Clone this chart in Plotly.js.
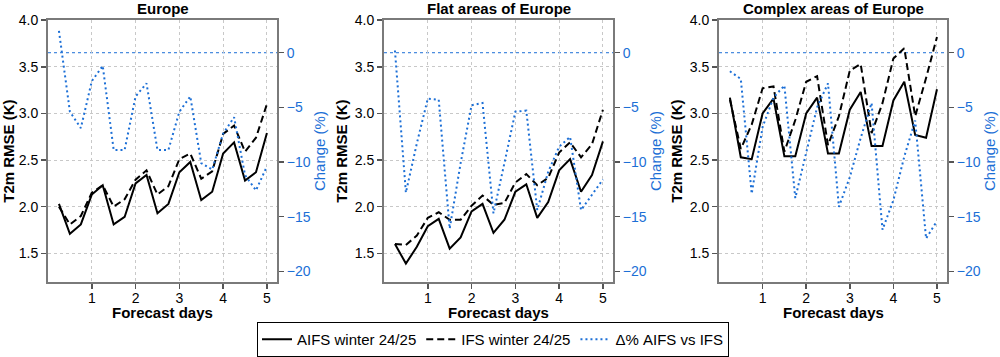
<!DOCTYPE html>
<html>
<head>
<meta charset="utf-8">
<script src="https://cdn.plot.ly/plotly-3.0.1.min.js"></script>
<style>html,body{margin:0;padding:0;background:#fff;}#chart{width:1000px;height:357px;}</style>
</head>
<body>
<div id="chart"></div>
<script>
const days = [0.25,0.5,0.75,1,1.25,1.5,1.75,2,2.25,2.5,2.75,3,3.25,3.5,3.75,4,4.25,4.5,4.75,5];
const panelTitles = ["Europe", "Flat areas of Europe", "Complex areas of Europe"];
const seriesNames = ["AIFS winter 24/25", "IFS winter 24/25", "Δ% AIFS vs IFS"];
const xTickVals = [1, 2, 3, 4, 5];
const xTickText = ["1", "2", "3", "4", "5"];
const leftTickVals = [1.5, 2.0, 2.5, 3.0, 3.5, 4.0];
const leftTickText = ["1.5", "2.0", "2.5", "3.0", "3.5", "4.0"];
const rightTickVals = [0, -5, -10, -15, -20];
const rightTickText = ["0", "\u22125", "\u221210", "\u221215", "\u221220"];

const aifsEurope  = [2.03,1.71,1.81,2.13,2.23,1.81,1.89,2.25,2.34,1.93,2.03,2.37,2.48,2.07,2.16,2.57,2.69,2.28,2.37,2.79];
const ifsEurope   = [2.00,1.81,1.90,2.15,2.23,2.00,2.08,2.29,2.39,2.13,2.22,2.51,2.57,2.30,2.38,2.78,2.87,2.59,2.74,3.10];
const deltaEurope = [2.0,-5.4,-6.9,-2.6,-1.2,-8.9,-8.9,-4.0,-2.8,-8.9,-8.9,-5.4,-4.0,-10.1,-10.7,-7.4,-5.9,-11.2,-12.6,-10.4];

const aifsFlat  = [1.60,1.39,1.57,1.79,1.87,1.55,1.67,1.95,2.03,1.72,1.86,2.16,2.24,1.88,2.05,2.39,2.51,2.16,2.34,2.70];
const ifsFlat   = [1.60,1.59,1.69,1.88,1.94,1.86,1.86,2.01,2.12,2.02,2.04,2.26,2.35,2.23,2.31,2.58,2.69,2.53,2.67,3.04];
const deltaFlat = [0.2,-12.8,-8.3,-4.2,-4.3,-16.1,-10.1,-4.8,-4.6,-14.7,-10.1,-5.4,-5.3,-14.4,-10.9,-8.6,-7.7,-14.4,-13.0,-11.6];

const aifsComplex  = [3.17,2.53,2.51,3.00,3.16,2.54,2.54,3.00,3.17,2.57,2.57,3.04,3.23,2.65,2.65,3.14,3.34,2.77,2.74,3.26];
const ifsComplex   = [3.15,2.62,2.88,3.27,3.29,2.59,2.93,3.34,3.40,2.66,2.97,3.46,3.53,2.79,3.11,3.59,3.70,2.97,3.38,3.82];
const deltaComplex = [-1.7,-2.4,-12.9,-6.8,-4.1,-3.0,-13.3,-9.2,-5.0,-2.8,-14.1,-11.4,-7.8,-4.6,-16.2,-13.5,-9.5,-6.2,-17.0,-15.4];

const panels = [
  {aifs: aifsEurope, ifs: ifsEurope, delta: deltaEurope},
  {aifs: aifsFlat, ifs: ifsFlat, delta: deltaFlat},
  {aifs: aifsComplex, ifs: ifsComplex, delta: deltaComplex}
];

const BLUE = "#1c6fd6";
const FONT = "Liberation Sans, Arial, Helvetica, sans-serif";
const W = 1000, H = 357;
const xDom = [[48,277],[384,613],[719,947]];
const yDom = [1-283/H, 1-20/H];

const traces = [];
const layout = {
  width: W, height: H,
  margin: {l:0, r:0, t:0, b:0},
  paper_bgcolor: "#fff", plot_bgcolor: "#fff",
  font: {family: FONT, size: 14, color: "#000"},
  showlegend: true,
  legend: {
    orientation: "h", x: 0.493, xanchor: "center", y: 1-323/H, yanchor: "top",
    bordercolor: "#000", borderwidth: 1, bgcolor: "#fff",
    font: {family: FONT, size: 15, color: "#000"}, itemwidth: 30, tracegroupgap: 0
  },
  shapes: [], annotations: []
};

panels.forEach((p, i) => {
  const xn = i === 0 ? "" : String(i+1);
  const yl = i === 0 ? "" : String(2*i+1);
  const yr = String(2*i+2);
  const xa = "x" + xn, yla = "y" + yl, yra = "y" + yr;
  traces.push({x: days, y: p.aifs, xaxis: xa, yaxis: yla, type: "scatter", mode: "lines",
    name: seriesNames[0], legendgroup: "a", showlegend: i === 0,
    line: {color: "#000", width: 2, dash: "solid"}});
  traces.push({x: days, y: p.ifs, xaxis: xa, yaxis: yla, type: "scatter", mode: "lines",
    name: seriesNames[1], legendgroup: "b", showlegend: i === 0,
    line: {color: "#000", width: 2, dash: "7px,4px"}});
  traces.push({x: days, y: p.delta, xaxis: xa, yaxis: yra, type: "scatter", mode: "lines",
    name: seriesNames[2], legendgroup: "c", showlegend: i === 0,
    line: {color: BLUE, width: 2, dash: "2px,3px"}});

  layout["xaxis" + xn] = {
    domain: [xDom[i][0]/W, xDom[i][1]/W], anchor: yla, range: [0, 5.23],
    tickvals: xTickVals, ticktext: xTickText,
    showgrid: true, gridcolor: "#c8c8c8", griddash: "dot", gridwidth: 1,
    zeroline: false, showline: true, linecolor: "#7a7a7a", linewidth: 2, mirror: true,
    ticks: "outside", ticklen: 5, tickwidth: 1.5, tickcolor: "#555",
    ticklabelstandoff: -3,
    tickfont: {family: FONT, size: 14, color: "#000"},
    automargin: false, fixedrange: true
  };
  layout["yaxis" + yl] = {
    domain: yDom, anchor: xa, range: [1.19, 4.003],
    tickvals: leftTickVals, ticktext: leftTickText,
    showgrid: true, gridcolor: "#c8c8c8", griddash: "dot", gridwidth: 1,
    zeroline: false, showline: true, linecolor: "#7a7a7a", linewidth: 2,
    ticks: "outside", ticklen: 5, tickwidth: 1.5, tickcolor: "#555",
    tickfont: {family: FONT, size: 14, color: "#000"},
    title: {text: "T2m RMSE (K)", font: {family: FONT, size: 15, weight: "bold", color: "#000"}, standoff: 3},
    automargin: false, fixedrange: true
  };
  layout["yaxis" + yr] = {
    overlaying: yla, side: "right", anchor: xa, range: [-21, 3],
    tickvals: rightTickVals, ticktext: rightTickText,
    showgrid: false, zeroline: false, showline: true, linecolor: "#7a7a7a", linewidth: 2,
    ticks: "outside", ticklen: 5, tickwidth: 1.5, tickcolor: "#555",
    tickfont: {family: FONT, size: 14, color: BLUE},
    title: {text: "Change (%)", font: {family: FONT, size: 15, color: BLUE}, standoff: 2},
    automargin: false, fixedrange: true
  };
  layout.shapes.push({type: "line", xref: xa + " domain", x0: 0, x1: 1, yref: yra, y0: 0, y1: 0,
    line: {color: BLUE, width: 1, dash: "dot"}, layer: "below"});
  layout.annotations.push({text: "<b>" + panelTitles[i] + "</b>", xref: xa + " domain", x: 0.5,
    yref: "paper", y: 1-9/H, yanchor: "middle", xanchor: "center", showarrow: false,
    font: {family: FONT, size: 15, color: "#000"}});
  layout.annotations.push({text: "<b>Forecast days</b>", xref: xa + " domain", x: 0.5,
    yref: "paper", y: 1-313/H, yanchor: "middle", xanchor: "center", showarrow: false,
    font: {family: FONT, size: 15, color: "#000"}});
});

Plotly.newPlot("chart", traces, layout, {displayModeBar: false, staticPlot: true});
</script>
</body>
</html>
